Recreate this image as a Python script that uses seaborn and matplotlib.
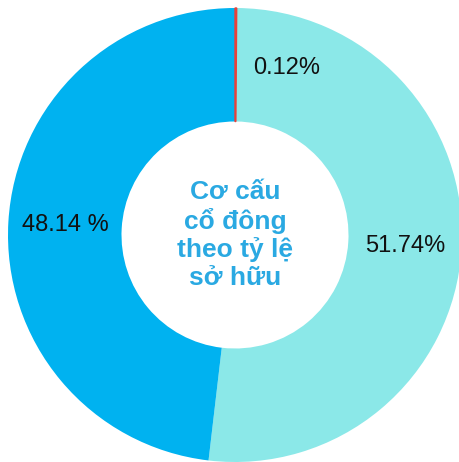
import numpy as np
import matplotlib
matplotlib.use("Agg")
import matplotlib.pyplot as plt
import seaborn as sns

categories = ["Khác", "Cổ đông A", "Cổ đông B"]
values = [0.12, 51.74, 48.14]
label_texts = ["0.12%", "51.74%", "48.14 %"]
colors = ["#E8403A", "#8BE8E8", "#00B2F0"]
center_title = "Cơ cấu\ncổ đông\ntheo tỷ lệ\nsở hữu"

sns.set_theme(style="white")
plt.rcParams['font.family'] = ['Liberation Sans', 'DejaVu Sans']

fig = plt.figure(figsize=(4.60, 4.62), dpi=100)
W, H = 460, 462
cx, cy, R = 235, 235, 227
ax = fig.add_axes([(cx - R) / W, (H - cy - R) / H, 2 * R / W, 2 * R / H])

pal = sns.color_palette(colors)
wedges, _ = ax.pie(values, colors=pal, startangle=90,
                   counterclock=False, radius=1.0,
                   wedgeprops=dict(width=0.5, linewidth=0))
# make the tiny slice visible like the reference
wedges[0].set_edgecolor(pal[0])
wedges[0].set_linewidth(1.0)
wedges[0].set_zorder(3)
ax.set_xlim(-1, 1)
ax.set_ylim(-1, 1)
ax.set_aspect("auto")
ax.axis("off")

angle_shift = [-17, 0, 0]
radius_lab = [0.77, 0.75, 0.75]
for w, t, sh, rl in zip(wedges, label_texts, angle_shift, radius_lab):
    ang = np.deg2rad((w.theta1 + w.theta2) / 2 + sh)
    ax.text(rl * np.cos(ang), rl * np.sin(ang), t, ha="center", va="center",
            fontsize=17, color="#111111")

ax.text(0.0, 0.0, center_title, ha="center", va="center", fontsize=19,
        fontweight="bold", color="#2AA9E2", linespacing=1.18)

fig.savefig("out.png", dpi=100)
